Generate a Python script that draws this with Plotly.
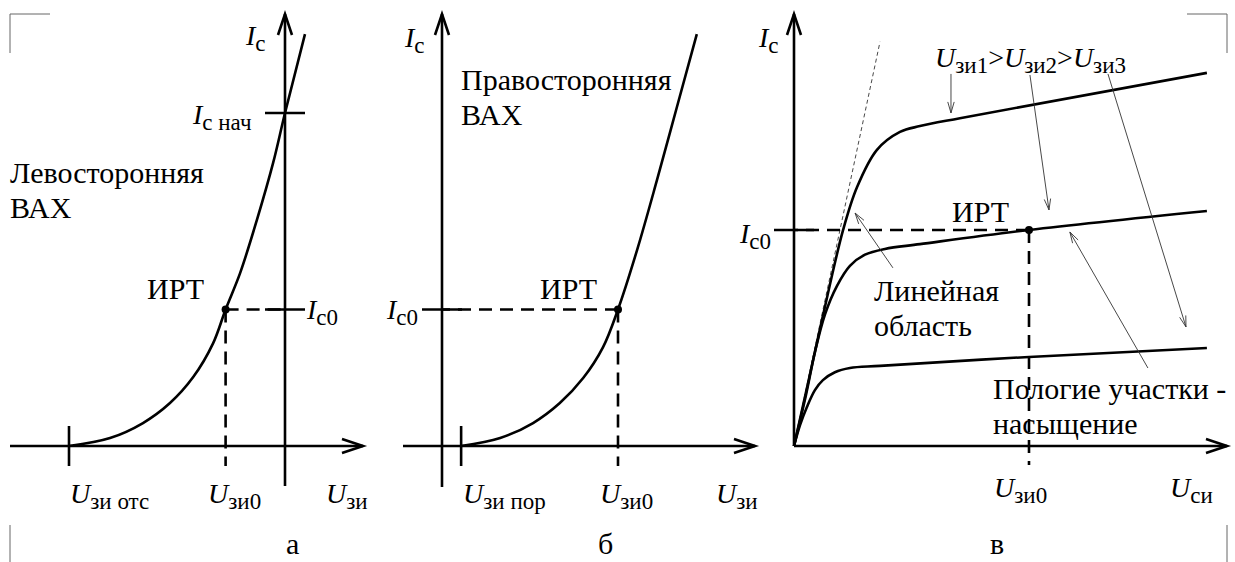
import plotly.graph_objects as go

W, H = 1235, 562
FONT = "'Liberation Serif', 'Times New Roman', Tinos, 'DejaVu Serif', serif"
BODY = 30      # plain captions
MAIN = 28      # italic U / I symbols
SUB = 23       # subscripts

# ---------------- data ----------------
# а: left-side transfer characteristic Ic(Uзи), depletion-mode channel
A_U = [-4.0, -3.24, -2.63, -2.13, -1.70, -1.33, -1.10, -0.83, -0.52, -0.22, 0.0, 0.37]
A_I = [0.0, 0.24, 0.69, 1.29, 2.07, 3.09, 4.10, 5.20, 6.79, 8.50, 10.0, 12.37]
A_U_OFF = -4.0      # Uзи отс
A_U0 = -1.10        # Uзи0
A_I0 = 4.10         # Ic0
A_I_START = 10.0    # Ic нач

# б: right-side transfer characteristic, induced channel
B_U = [0.5, 1.52, 2.38, 3.08, 3.69, 4.21, 4.60, 5.10, 5.62, 6.14, 6.66]
B_I = [0.0, 0.24, 0.69, 1.29, 2.04, 2.97, 4.10, 5.89, 7.99, 10.18, 12.37]
B_U_TH = 0.5        # Uзи пор
B_U0 = 4.60
B_I0 = 4.10

# в: output characteristics Ic(Uси) for three gate voltages
C_U1 = [0, 0.60, 1.23, 2.09, 2.68, 3.53, 4.51, 5.36, 7.06, 17.57]
C_I1 = [0, 1.20, 2.47, 4.10, 4.91, 5.62, 5.96, 6.07, 6.22, 7.08]
C_U2 = [0, 0.51, 0.89, 1.32, 1.83, 2.38, 3.02, 3.87, 5.36, 10.0, 17.57]
C_I2 = [0, 0.97, 1.78, 2.50, 3.04, 3.42, 3.63, 3.74, 3.83, 4.10, 4.46]
C_U3 = [0, 0.26, 0.55, 0.89, 1.23, 1.74, 2.38, 3.66, 10.0, 17.57]
C_I3 = [0, 0.40, 0.74, 1.06, 1.25, 1.40, 1.48, 1.52, 1.69, 1.86]
C_TAN_U = [0, 3.66]
C_TAN_I = [0, 7.67]
C_U0 = 10.0
C_I0 = 4.10

# ---------------- panel geometry (pixels) ----------------
PANELS = [
    dict(ax="x", ay="y", ox=285, oy=446, sx=54.0, sy=33.3, left=0, right=400,
         xaxis=(10, 363), yaxis=(486, 14)),
    dict(ax="x2", ay="y2", ox=442, oy=446, sx=38.26, sy=33.3, left=400, right=760,
         xaxis=(403, 755), yaxis=(487, 14)),
    dict(ax="x3", ay="y3", ox=794, oy=446, sx=23.5, sy=52.7, left=760, right=1235,
         xaxis=(794, 1227), yaxis=(446, 14)),
]
PA, PB, PC = PANELS

AXIS_W = 2.6
CURVE_W = 2.6
DASH = "13px,8px"
TICK = 20


def to_px(p, u, i):
    return p["ox"] + u * p["sx"], p["oy"] - i * p["sy"]


def du(p, px):      # pixel length -> data length along U
    return px / p["sx"]


def di(p, px):      # pixel length -> data length along I
    return px / p["sy"]


def paper(x, y):
    return x / W, 1 - y / H


fig = go.Figure()
shapes = []
annotations = []


def line(p, xs, ys, width=CURVE_W, dash=None, color="black", shape="linear"):
    fig.add_trace(go.Scatter(
        x=xs, y=ys, xaxis=p["ax"], yaxis=p["ay"], mode="lines",
        line=dict(color=color, width=width, dash=dash, shape=shape, smoothing=1.0),
        hoverinfo="skip", showlegend=False))


def dot(p, u, i):
    fig.add_trace(go.Scatter(
        x=[u], y=[i], xaxis=p["ax"], yaxis=p["ay"], mode="markers",
        marker=dict(color="black", size=8), hoverinfo="skip", showlegend=False))


def head(tip, tail, length, half, width, color="black"):
    tx, ty = tip
    vx, vy = tail[0] - tx, tail[1] - ty
    n = (vx * vx + vy * vy) ** 0.5
    vx, vy = vx / n, vy / n
    bx, by = tx + vx * length, ty + vy * length
    px_, py_ = -vy * half, vx * half
    a = paper(bx + px_, by + py_)
    b = paper(tx, ty)
    c = paper(bx - px_, by - py_)
    shapes.append(dict(type="path", xref="paper", yref="paper",
                       path=f"M{a[0]},{a[1]} L{b[0]},{b[1]} L{c[0]},{c[1]}",
                       line=dict(color=color, width=width)))


def thin_arrow(p, tail, tip):
    t0 = to_px(p, *tail)
    t1 = to_px(p, *tip)
    a, b = paper(*t0), paper(*t1)
    shapes.append(dict(type="line", xref="paper", yref="paper",
                       x0=a[0], y0=a[1], x1=b[0], y1=b[1],
                       line=dict(color="#333333", width=0.9)))
    head(t1, t0, 11, 3.2, 0.9, "#333333")


def axes(p):
    x0, x1 = p["xaxis"]
    y0, y1 = p["yaxis"]
    oy, ox = p["oy"], p["ox"]
    for (a, b) in (((x0, oy), (x1, oy)), ((ox, y0), (ox, y1))):
        pa, pb = paper(*a), paper(*b)
        shapes.append(dict(type="line", xref="paper", yref="paper",
                           x0=pa[0], y0=pa[1], x1=pb[0], y1=pb[1],
                           line=dict(color="black", width=AXIS_W)))
        head(b, a, 21, 7, AXIS_W)


def text(x, y, s, size=BODY, xanchor="left", yanchor="middle"):
    px_, py_ = paper(x, y)
    annotations.append(dict(x=px_, y=py_, xref="paper", yref="paper", text=s,
                            showarrow=False, xanchor=xanchor, yanchor=yanchor,
                            font=dict(family=FONT, size=size, color="black")))


def sym(main, s):
    return (f"<i>{main}</i><sub><span style='font-size:{SUB}px'>{s}</span></sub>")


# ---------------- panel а ----------------
axes(PA)
line(PA, [A_U0, A_U0], [A_I0, -di(PA, TICK)], width=AXIS_W, dash=DASH)
line(PA, [A_U0, 0], [A_I0, A_I0], width=AXIS_W, dash=DASH)
line(PA, [A_U_OFF, A_U_OFF], [-di(PA, TICK), di(PA, TICK)], width=AXIS_W)
line(PA, [-du(PA, TICK), du(PA, TICK)], [A_I_START, A_I_START], width=AXIS_W)
line(PA, [-du(PA, TICK), du(PA, TICK)], [A_I0, A_I0], width=AXIS_W)
line(PA, A_U, A_I, shape="spline")
dot(PA, A_U0, A_I0)

text(268, 38, sym("I", "с"), MAIN, "right")
text(254, 117, sym("I", "с нач"), MAIN, "right")
text(8, 172, "Левосторонняя")
text(8, 207, "ВАХ")
text(175, 288, "ИРТ", xanchor="center")
text(304, 312, sym("I", "с0"), MAIN)
text(68, 496, sym("U", "зи отс"), MAIN)
text(206, 496, sym("U", "зи0"), MAIN)
text(324, 496, sym("U", "зи"), MAIN)
text(292, 543, "а", xanchor="center")

# ---------------- panel б ----------------
axes(PB)
line(PB, [B_U0, B_U0], [B_I0, -di(PB, TICK)], width=AXIS_W, dash=DASH)
line(PB, [B_U0, 0], [B_I0, B_I0], width=AXIS_W, dash=DASH)
line(PB, [B_U_TH, B_U_TH], [-di(PB, TICK), di(PB, TICK)], width=AXIS_W)
line(PB, [-du(PB, TICK), du(PB, TICK)], [B_I0, B_I0], width=AXIS_W)
line(PB, B_U, B_I, shape="spline")
dot(PB, B_U0, B_I0)

text(402, 40, sym("I", "с"), MAIN)
text(459, 80, "Правосторонняя")
text(459, 114, "ВАХ")
text(568, 288, "ИРТ", xanchor="center")
text(420, 312, sym("I", "с0"), MAIN, "right")
text(461, 496, sym("U", "зи пор"), MAIN)
text(598, 496, sym("U", "зи0"), MAIN)
text(714, 496, sym("U", "зи"), MAIN)
text(605, 543, "б", xanchor="center")

# ---------------- panel в ----------------
axes(PC)
line(PC, C_TAN_U, C_TAN_I, width=0.9, dash="4px,3px", color="#333333")
line(PC, [C_U0, C_U0], [C_I0, -di(PC, 19)], width=AXIS_W, dash=DASH)
line(PC, [C_U0, 0], [C_I0, C_I0], width=AXIS_W, dash=DASH)
line(PC, [-du(PC, TICK), du(PC, TICK)], [C_I0, C_I0], width=AXIS_W)
line(PC, C_U1, C_I1, shape="spline")
line(PC, C_U2, C_I2, shape="spline")
line(PC, C_U3, C_I3, shape="spline")
dot(PC, C_U0, C_I0)

# pointer arrows: (tail, tip) in panel units
POINTERS = [
    ((6.68, 7.06), (6.68, 6.32)),
    ((10.04, 7.04), (10.85, 4.48)),
    ((13.36, 7.06), (16.68, 2.26)),
    ((4.21, 3.38), (2.60, 4.42)),
    ((15.06, 1.48), (11.74, 4.06)),
]
for tail, tip in POINTERS:
    thin_arrow(PC, tail, tip)

text(756, 40, sym("I", "с"), MAIN)
text(933, 60, sym("U", "зи1") + "&gt;" + sym("U", "зи2") + "&gt;" + sym("U", "зи3"), MAIN)
text(980, 211, "ИРТ", xanchor="center")
text(773, 236, sym("I", "с0"), MAIN, "right")
text(872, 290, "Линейная")
text(872, 325, "область")
text(991, 388, "Пологие участки -")
text(991, 423, "насыщение")
text(992, 490, sym("U", "зи0"), MAIN)
text(1168, 490, sym("U", "си"), MAIN)
text(997, 543, "в", xanchor="center")

# ---------------- page corner marks ----------------
CORNERS = [
    [(10, 53), (10, 14), (50, 14)],
    [(10, 525), (10, 562)],
    [(1187, 14), (1227, 14), (1227, 53)],
    [(1227, 525), (1227, 562)],
]
for pts in CORNERS:
    pp = [paper(*q) for q in pts]
    path = "M" + " L".join(f"{a},{b}" for a, b in pp)
    shapes.append(dict(type="path", xref="paper", yref="paper", path=path,
                       line=dict(color="#666666", width=1)))

# ---------------- axes layout ----------------
layout_axes = {}
for k, p in enumerate(PANELS):
    sfx = "" if k == 0 else str(k + 1)
    layout_axes["xaxis" + sfx] = dict(
        domain=[p["left"] / W, p["right"] / W],
        range=[(p["left"] - p["ox"]) / p["sx"], (p["right"] - p["ox"]) / p["sx"]],
        visible=False, fixedrange=True, anchor="y" + sfx)
    layout_axes["yaxis" + sfx] = dict(
        domain=[0, 1],
        range=[(p["oy"] - H) / p["sy"], p["oy"] / p["sy"]],
        visible=False, fixedrange=True, anchor="x" + sfx)

fig.update_layout(
    width=W, height=H, margin=dict(l=0, r=0, t=0, b=0),
    paper_bgcolor="white", plot_bgcolor="white", showlegend=False,
    font=dict(family=FONT),
    shapes=shapes, annotations=annotations, **layout_axes)

fig.write_html("out.html")
